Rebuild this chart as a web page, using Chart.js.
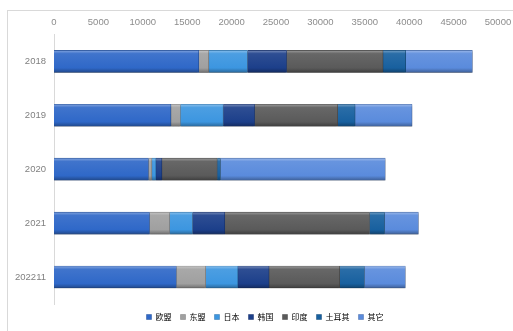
<!DOCTYPE html>
<html>
<head>
<meta charset="utf-8">
<script src="https://cdn.jsdelivr.net/npm/chart.js@4/dist/chart.umd.min.js"></script>
<style>
  body { margin: 0; background: #fff; }
  #frame { position: absolute; left: 7px; top: 10px; width: 600px; height: 400px;
           border-left: 1px solid #d9d9d9; border-top: 1px solid #d9d9d9; }
  #wrap { position: absolute; left: 0; top: 0; width: 513px; height: 331px; }
</style>
</head>
<body>
<div id="frame"></div>
<div id="wrap"><canvas id="myChart" width="513" height="331"></canvas></div>
<script>
const years = ["2018", "2019", "2020", "2021", "202211"];
const seriesNames = ["欧盟", "东盟", "日本", "韩国", "印度", "土耳其", "其它"];
const eu = [16300, 13170, 10630, 10750, 13770];
const asean = [1130, 1050, 390, 2260, 3310];
const japan = [4340, 4830, 450, 2570, 3620];
const korea = [4420, 3540, 680, 3650, 3510];
const india = [10860, 9350, 6220, 16290, 7960];
const turkey = [2550, 1960, 370, 1700, 2780];
const others = [7510, 6420, 18560, 3810, 4610];
const xTicks = [0, 5000, 10000, 15000, 20000, 25000, 30000, 35000, 40000, 45000, 50000];

const colors = ["#2f68c8", "#a0a0a0", "#3c96e0", "#1c3f8a", "#5a5a5a", "#18609f", "#5a8bdc"];
const allData = [eu, asean, japan, korea, india, turkey, others];

// lighten / darken a hex colour
const shade = (hex, amt) => {
  let n = parseInt(hex.slice(1), 16);
  let r = (n >> 16) & 255, g = (n >> 8) & 255, b = n & 255;
  const f = (c) => Math.max(0, Math.min(255, Math.round(amt > 0 ? c + (255 - c) * amt : c * (1 + amt))));
  return "rgb(" + f(r) + "," + f(g) + "," + f(b) + ")";
};

const barFill = (base) => (ctx) => {
  const chart = ctx.chart;
  const yScale = chart.scales && chart.scales.y;
  if (!yScale || ctx.dataIndex === undefined) return base;
  const c = yScale.getPixelForValue(ctx.dataIndex);
  if (!isFinite(c)) return base;
  const g = chart.ctx.createLinearGradient(0, c - 11, 0, c + 11);
  g.addColorStop(0, shade(base, 0.4));
  g.addColorStop(0.15, shade(base, 0.08));
  g.addColorStop(0.8, base);
  g.addColorStop(1, shade(base, -0.3));
  return g;
};

const shadowPlugin = {
  id: "barShadow",
  beforeDatasetsDraw(chart) {
    const c = chart.ctx;
    c.save();
    c.shadowColor = "rgba(0,0,0,0.35)";
    c.shadowBlur = 2;
    c.shadowOffsetY = 1.5;
  },
  afterDatasetsDraw(chart) {
    chart.ctx.restore();
  },
};

// legend in the original sits a bit right of centre
const legendShift = {
  id: "legendShift",
  afterLayout(chart) {
    if (chart.legend) {
      chart.legend.left += 16;
      chart.legend.right += 16;
    }
  },
};

const datasets = seriesNames.map((name, i) => ({
  label: name,
  data: allData[i],
  backgroundColor: barFill(colors[i]),
  borderColor: shade(colors[i], -0.25),
  borderWidth: 0.6,
  barThickness: 22,
}));

new Chart(document.getElementById("myChart"), {
  type: "bar",
  data: { labels: years, datasets: datasets },
  plugins: [shadowPlugin, legendShift],
  options: {
    indexAxis: "y",
    responsive: false,
    animation: false,
    layout: { padding: { left: 0, right: 15, top: 11, bottom: 0 } },
    scales: {
      x: {
        position: "top",
        stacked: true,
        min: 0,
        max: 50000,
        afterBuildTicks: (axis) => { axis.ticks = xTicks.map((v) => ({ value: v })); },
        afterFit: (axis) => { axis.paddingLeft = 0; axis.paddingRight = 0; },
        grid: { display: false, drawTicks: false },
        border: { display: false },
        ticks: {
          color: "#8c8c8c",
          font: { size: 9.5, family: "Liberation Sans" },
          padding: 6,
          callback: (v) => String(v),
        },
      },
      y: {
        stacked: true,
        grid: { display: false, drawTicks: false },
        border: { color: "#d9d9d9" },
        afterFit: (axis) => { axis.width = 54; },
        ticks: { color: "#808080", font: { size: 9.5, family: "Liberation Sans" }, padding: 8 },
      },
    },
    plugins: {
      legend: {
        position: "bottom",
        labels: {
          boxWidth: 5,
          boxHeight: 5,
          padding: 9,
          color: "#707070",
          font: { size: 8, family: "Noto Sans CJK SC" },
          generateLabels: (chart) => chart.data.datasets.map((ds, i) => ({
            text: ds.label,
            fillStyle: colors[i],
            strokeStyle: shade(colors[i], -0.25),
            lineWidth: 0.5,
            datasetIndex: i,
          })),
        },
      },
      tooltip: { enabled: false },
    },
  },
});
</script>
</body>
</html>
